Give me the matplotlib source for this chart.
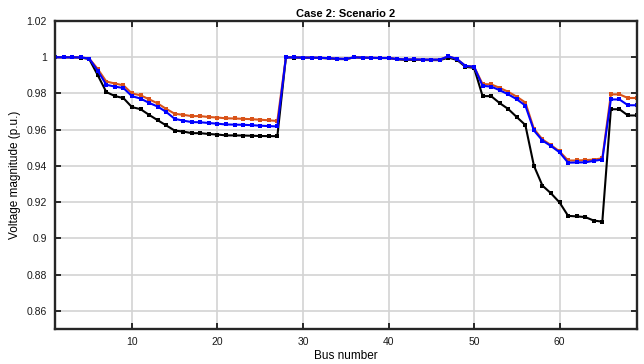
import matplotlib.pyplot as plt

plt.rcParams['font.family'] = ['Liberation Sans', 'DejaVu Sans']

bus = list(range(1, 70))

# base case (no compensation)
v_base = [1.0000, 0.99997, 0.99993, 0.99984, 0.99902, 0.99009, 0.98079, 0.97858, 0.97745, 0.97245,
          0.97135, 0.96819, 0.96526, 0.96237, 0.95951, 0.95897, 0.95809, 0.95808, 0.95762, 0.95732,
          0.95686, 0.95685, 0.95679, 0.95666, 0.95652, 0.95646, 0.95643, 0.99993, 0.99985, 0.99973,
          0.99971, 0.99961, 0.99935, 0.99901, 0.99895, 0.99992, 0.99975, 0.99959, 0.99954, 0.99954,
          0.99884, 0.99855, 0.99851, 0.99850, 0.99841, 0.99840, 0.99979, 0.99854, 0.99470, 0.99415,
          0.97854, 0.97853, 0.97466, 0.97142, 0.96695, 0.96258, 0.94011, 0.92913, 0.92486, 0.91984,
          0.91244, 0.91215, 0.91177, 0.90984, 0.90924, 0.97129, 0.97129, 0.96786, 0.96786]

v_red = [1.0000, 0.99998, 0.99995, 0.99990, 0.99930, 0.99350, 0.98660, 0.98550, 0.98450, 0.98000,
         0.97900, 0.97680, 0.97450, 0.97150, 0.96880, 0.96820, 0.96750, 0.96750, 0.96700, 0.96670,
         0.96630, 0.96620, 0.96600, 0.96580, 0.96550, 0.96520, 0.96480, 0.99995, 0.99990, 0.99980,
         0.99980, 0.99970, 0.99950, 0.99920, 0.99910, 0.99995, 0.99980, 0.99970, 0.99960, 0.99960,
         0.99900, 0.99880, 0.99880, 0.99870, 0.99870, 0.99870, 1.00050, 0.99900, 0.99520, 0.99480,
         0.98520, 0.98500, 0.98310, 0.98090, 0.97820, 0.97500, 0.96050, 0.95460, 0.95150, 0.94800,
         0.94300, 0.94300, 0.94320, 0.94350, 0.94420, 0.97950, 0.97950, 0.97750, 0.97750]

v_blue = [1.0000, 0.99998, 0.99995, 0.99990, 0.99930, 0.99250, 0.98480, 0.98380, 0.98300, 0.97850,
          0.97720, 0.97480, 0.97280, 0.96980, 0.96600, 0.96500, 0.96420, 0.96410, 0.96370, 0.96330,
          0.96290, 0.96280, 0.96270, 0.96250, 0.96220, 0.96200, 0.96180, 0.99995, 0.99990, 0.99980,
          0.99980, 0.99970, 0.99950, 0.99920, 0.99910, 0.99995, 0.99980, 0.99970, 0.99960, 0.99960,
          0.99900, 0.99880, 0.99880, 0.99870, 0.99870, 0.99870, 1.00050, 0.99900, 0.99520, 0.99480,
          0.98420, 0.98380, 0.98180, 0.97950, 0.97680, 0.97330, 0.95960, 0.95400, 0.95100, 0.94750,
          0.94180, 0.94190, 0.94200, 0.94280, 0.94350, 0.97670, 0.97670, 0.97350, 0.97350]

yticks = [0.86, 0.88, 0.90, 0.92, 0.94, 0.96, 0.98, 1.00, 1.02]
ylabels = ['0.86', '0.88', '0.9', '0.92', '0.94', '0.96', '0.98', '1', '1.02']
xticks = [10, 20, 30, 40, 50, 60]

fig = plt.figure(figsize=(6.44, 3.64), dpi=100)
ax = fig.add_axes([0.0854, 0.0962, 0.9030, 0.8461])

ax.plot(bus, v_base, '-s', color='black', lw=1.5, ms=2.8, mew=0)
ax.plot(bus, v_red, '-s', color='#D95319', lw=1.5, ms=2.8, mew=0)
ax.plot(bus, v_blue, '-s', color='#0000FF', lw=1.5, ms=2.8, mew=0)

ax.set_xlim(1, 69)
ax.set_ylim(0.85, 1.02)
ax.set_xticks(xticks)
ax.set_yticks(yticks)
ax.set_yticklabels(ylabels)
ax.grid(True, color='#D3D3D3', lw=1.2)
ax.set_axisbelow(True)
ax.tick_params(direction='in', top=True, right=True, length=4, width=1.3,
               labelsize=7.5, colors='#1A1A1A', pad=6)
for s in ax.spines.values():
    s.set_linewidth(1.7)
    s.set_color('#262626')

ax.set_title('Case 2: Scenario 2', fontsize=8, fontweight='bold', pad=3)
ax.set_xlabel('Bus number', fontsize=8.5, labelpad=2)
ax.set_ylabel('Voltage magnitude (p.u.)', fontsize=8.5, labelpad=4)

fig.savefig('out.png', dpi=100)
